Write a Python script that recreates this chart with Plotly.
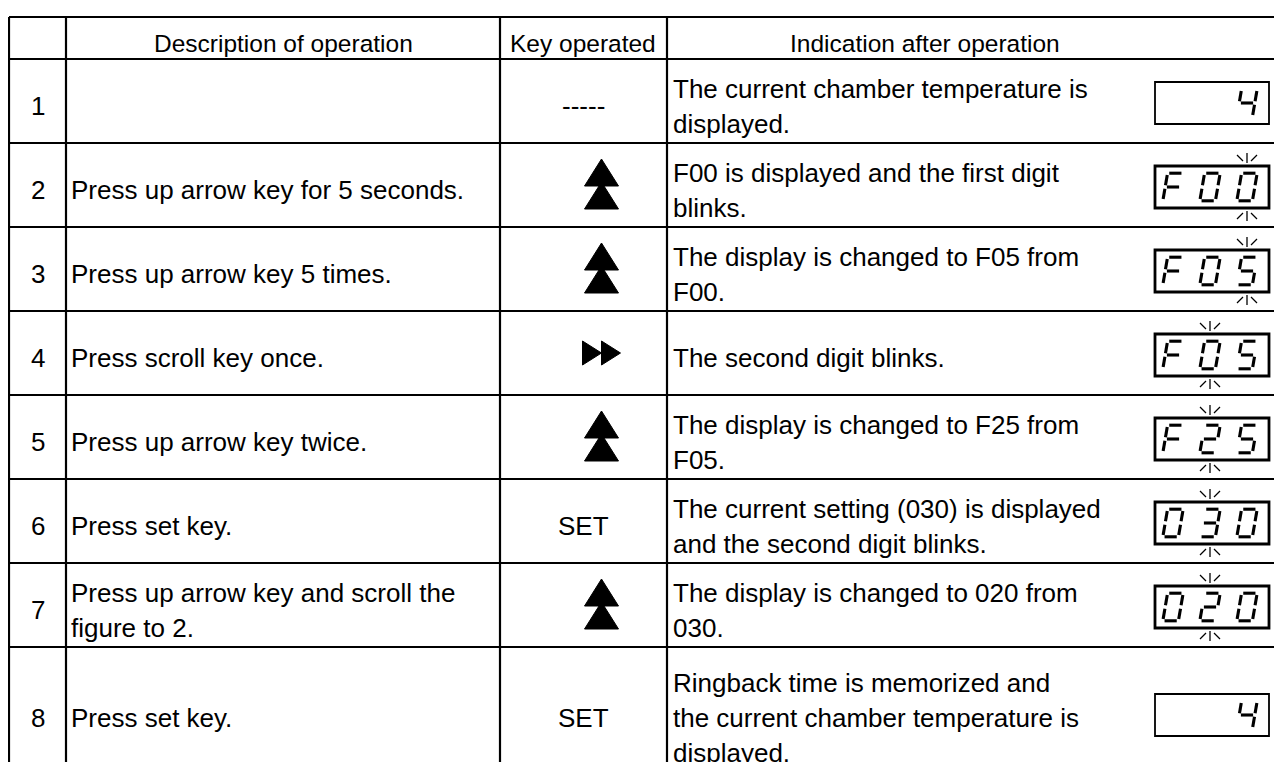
import plotly.graph_objects as go

# ---------------- data ----------------
headers = ["", "Description of operation", "Key operated", "Indication after operation"]
row_numbers = ["1", "2", "3", "4", "5", "6", "7", "8"]
descriptions = [
    [""],
    ["Press up arrow key for 5 seconds."],
    ["Press up arrow key 5 times."],
    ["Press scroll key once."],
    ["Press up arrow key twice."],
    ["Press set key."],
    ["Press up arrow key and scroll the", "figure to 2."],
    ["Press set key."],
]
keys = ["-----", "up", "up", "scroll", "up", "SET", "up", "SET"]
indications = [
    ["The current chamber temperature is", "displayed."],
    ["F00 is displayed and the first digit", "blinks."],
    ["The display is changed to F05 from", "F00."],
    ["The second digit blinks."],
    ["The display is changed to F25 from", "F05."],
    ["The current setting (030) is displayed", "and the second digit blinks."],
    ["The display is changed to 020 from", "030."],
    ["Ringback time is memorized and", "the current chamber temperature is", "displayed."],
]
display_values = ["  4", "F00", "F05", "F05", "F25", "030", "020", "  4"]
blink_digit = [None, 2, 2, 1, 1, 1, 1, None]

# ---------------- layout geometry (page pixel coordinates) ----------------
PAGE_W, PAGE_H = 1282, 762
BODY_MARGIN = 8  # default browser body margin around the plot div
col_edges = [9, 66, 500, 667, 1282]
header_centers = [37, 283, 583, 925]
row_edges = [17, 59, 143, 227, 311, 395, 479, 563, 647, 779]
FONT = dict(family="Liberation Sans, Arial, sans-serif", size=26, color="black")
HFONT = dict(family="Liberation Sans, Arial, sans-serif", size=24.5, color="black")
LINE_PITCH = 35
TEXT_DY = 5

fig = go.Figure()
shapes = []
annotations = []

# grid
for x in col_edges[:-1]:
    shapes.append(dict(type="line", x0=x, x1=x, y0=row_edges[0], y1=PAGE_H + 5,
                       line=dict(color="black", width=2.2)))
for y in row_edges[:-1]:
    shapes.append(dict(type="line", x0=col_edges[0], x1=PAGE_W + 5, y0=y, y1=y,
                       line=dict(color="black", width=2.2)))

def ann(x, y, text, anchor="center", font=FONT):
    annotations.append(dict(x=x, y=y + TEXT_DY, xref="x", yref="y", text=text, showarrow=False,
                            xanchor=anchor, yanchor="middle", font=font))

# header
hc = (row_edges[0] + row_edges[1]) / 2
for i, h in enumerate(headers):
    if h:
        ann(header_centers[i], hc, h, font=HFONT)

# seven-segment definitions
SEGS = {
    "0": "abcdef", "1": "bc", "2": "abged", "3": "abgcd", "4": "fgbc",
    "5": "afgcd", "F": "afeg", " ": "",
}

seg_x, seg_y = [], []
mark_x, mark_y = [], []
tri_x, tri_y = [], []

def add_line(xs, ys, x0, y0, x1, y1):
    xs += [x0, x1, None]
    ys += [y0, y1, None]

def digit(cx, cy, ch):
    hw, hh, k, g = 7.8, 13.8, 0.17, 1.7
    def P(x, y):
        return (cx + x + (-y) * k, cy + y)
    pts = {
        "a": ((-hw + g, -hh), (hw - g, -hh)),
        "b": ((hw, -hh + g), (hw, -g)),
        "c": ((hw, g), (hw, hh - g)),
        "d": ((-hw + g, hh), (hw - g, hh)),
        "e": ((-hw, g), (-hw, hh - g)),
        "f": ((-hw, -hh + g), (-hw, -g)),
        "g": ((-hw + g, 0), (hw - g, 0)),
    }
    for s in SEGS[ch]:
        (x0, y0), (x1, y1) = pts[s]
        p0, p1 = P(x0, y0), P(x1, y1)
        add_line(seg_x, seg_y, p0[0], p0[1], p1[0], p1[1])

def blink(cx, top, bottom):
    add_line(mark_x, mark_y, cx, top - 13, cx, top - 3)
    add_line(mark_x, mark_y, cx - 10, top - 11, cx - 4, top - 5)
    add_line(mark_x, mark_y, cx + 10, top - 11, cx + 4, top - 5)
    add_line(mark_x, mark_y, cx, bottom + 3, cx, bottom + 13)
    add_line(mark_x, mark_y, cx - 10, bottom + 11, cx - 4, bottom + 5)
    add_line(mark_x, mark_y, cx + 10, bottom + 11, cx + 4, bottom + 5)

def tri(pts):
    for p in pts + [pts[0]]:
        tri_x.append(p[0]); tri_y.append(p[1])
    tri_x.append(None); tri_y.append(None)

for r in range(8):
    y0, y1 = row_edges[r + 1], row_edges[r + 2]
    cy = (y0 + y1) / 2
    ann((col_edges[0] + col_edges[1]) / 2, cy, row_numbers[r])
    n = len(descriptions[r])
    for i, t in enumerate(descriptions[r]):
        if t:
            ann(col_edges[1] + 3, cy + (i - (n - 1) / 2) * LINE_PITCH, t, "left")
    kx = (col_edges[2] + col_edges[3]) / 2
    ix = kx + 18  # icons sit slightly right of column centre
    key = keys[r]
    if key == "up":
        tri([(ix, cy - 26), (ix - 17, cy + 1), (ix + 17, cy + 1)])
        tri([(ix, cy - 3), (ix - 17, cy + 24), (ix + 17, cy + 24)])
    elif key == "scroll":
        tri([(ix - 19, cy - 12), (ix - 19, cy + 12), (ix, cy)])
        tri([(ix, cy - 12), (ix, cy + 12), (ix + 19, cy)])
    else:
        ann(kx, cy, key)
    n = len(indications[r])
    for i, t in enumerate(indications[r]):
        ann(col_edges[3] + 4, cy + (i - (n - 1) / 2) * LINE_PITCH, t, "left")
    # display box
    bx0, bx1 = 1155, 1269
    bcy = cy + 2
    by0, by1 = bcy - 21, bcy + 21
    thick = blink_digit[r] is not None
    shapes.append(dict(type="rect", x0=bx0, x1=bx1, y0=by0, y1=by1,
                       line=dict(color="black", width=2.8 if thick else 1.8)))
    offs = [18, 55, 92]
    for j, ch in enumerate(display_values[r]):
        digit(bx0 + offs[j], bcy, ch)
    if thick:
        blink(bx0 + offs[blink_digit[r]], by0, by1)

fig.add_trace(go.Scatter(x=tri_x, y=tri_y, mode="lines", fill="toself",
                         fillcolor="black", line=dict(color="black", width=1),
                         hoverinfo="skip", showlegend=False))
fig.add_trace(go.Scatter(x=seg_x, y=seg_y, mode="lines",
                         line=dict(color="black", width=3.1),
                         hoverinfo="skip", showlegend=False))
fig.add_trace(go.Scatter(x=mark_x, y=mark_y, mode="lines",
                         line=dict(color="black", width=1.3),
                         hoverinfo="skip", showlegend=False))

fig.update_layout(
    width=PAGE_W - BODY_MARGIN, height=PAGE_H - BODY_MARGIN, autosize=False,
    margin=dict(l=0, r=0, t=0, b=0),
    paper_bgcolor="white", plot_bgcolor="white",
    xaxis=dict(range=[BODY_MARGIN, PAGE_W], visible=False, fixedrange=True),
    yaxis=dict(range=[PAGE_H, BODY_MARGIN], visible=False, fixedrange=True),
    shapes=shapes, annotations=annotations,
    showlegend=False,
)
fig.write_html("out.html", config={"displayModeBar": False})
